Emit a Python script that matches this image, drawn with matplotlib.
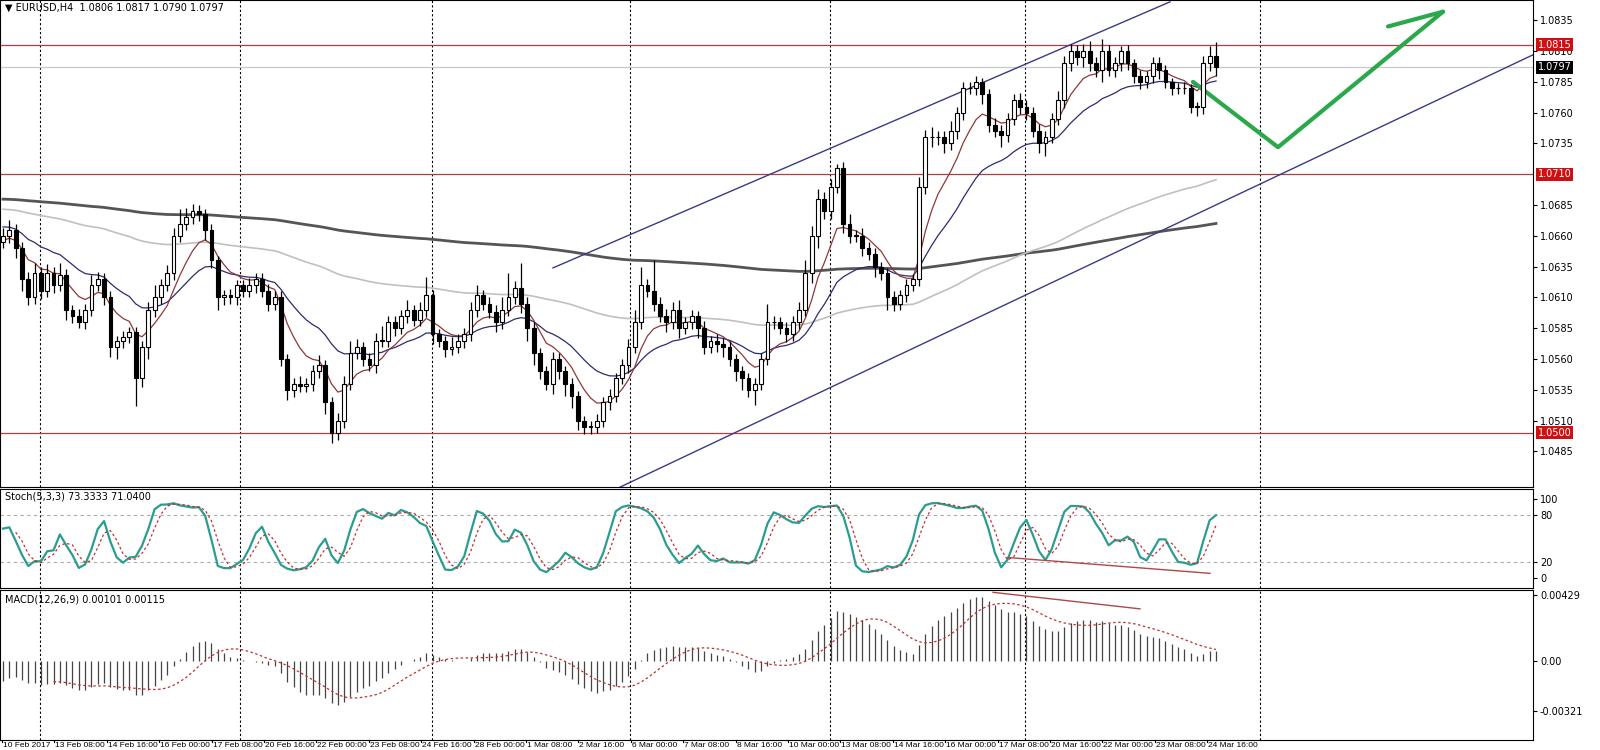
import numpy as np
import matplotlib
matplotlib.use("Agg")
import matplotlib.pyplot as plt

closes = [
1.0660,1.0665,1.0650,1.0625,1.0610,1.0630,1.0615,1.0630,1.0620,1.0628,
1.0600,1.0595,1.0590,1.0600,1.0620,1.0625,1.0610,1.0570,1.0575,1.0578,
1.0582,1.0545,1.0570,1.0600,1.0610,1.0620,1.0630,1.0660,1.0670,1.0675,
1.0680,1.0678,1.0665,1.0640,1.0610,1.0612,1.0610,1.0620,1.0615,1.0620,
1.0625,1.0615,1.0605,1.0610,1.0560,1.0535,1.0540,1.0538,1.0540,1.0550,
1.0555,1.0525,1.0500,1.0510,1.0540,1.0565,1.0570,1.0560,1.0555,1.0575,
1.0575,1.0590,1.0585,1.0595,1.0600,1.0592,1.0600,1.0612,1.0580,1.0575,
1.0568,1.0570,1.0575,1.0580,1.0600,1.0612,1.0605,1.0598,1.0590,1.0600,
1.0610,1.0618,1.0605,1.0585,1.0565,1.0550,1.0540,1.0560,1.0550,1.0540,
1.0530,1.0510,1.0505,1.0505,1.0510,1.0525,1.0530,1.0545,1.0555,1.0570,
1.0590,1.0620,1.0615,1.0605,1.0595,1.0590,1.0600,1.0585,1.0590,1.0595,
1.0585,1.0570,1.0575,1.0572,1.0570,1.0560,1.0550,1.0545,1.0535,1.0540,
1.0560,1.0590,1.0590,1.0585,1.0580,1.0590,1.0600,1.0630,1.0660,1.0690,
1.0680,1.0700,1.0715,1.0670,1.0660,1.0660,1.0650,1.0645,1.0635,1.0630,
1.0610,1.0605,1.0612,1.0620,1.0625,1.0700,1.0740,1.0740,1.0740,1.0735,
1.0745,1.0760,1.0780,1.0780,1.0785,1.0775,1.0750,1.0745,1.0742,1.0755,
1.0770,1.0765,1.0760,1.0745,1.0735,1.0740,1.0755,1.0770,1.0800,1.0810,
1.0805,1.0810,1.0800,1.0795,1.0810,1.0795,1.0800,1.0810,1.0800,1.0790,
1.0785,1.0790,1.0800,1.0795,1.0785,1.0780,1.0780,1.0780,1.0765,1.0765,
1.0800,1.0806,1.0797]
first_open = 1.0655
wick_up = [
6,8,5,5,6,8,5,7,5,10,
5,4,6,5,8,6,5,5,4,5,
4,4,5,6,10,5,6,6,12,8,
6,5,4,5,4,4,5,4,4,6,
5,5,6,5,5,4,5,6,5,5,
8,4,4,6,6,10,6,4,5,6,
12,5,5,5,8,4,6,15,4,4,
4,8,5,5,6,8,4,5,6,10,
20,5,20,5,5,4,4,6,5,4,
5,4,4,5,5,4,6,4,5,6,
10,15,5,25,5,6,6,8,4,5,
4,6,4,5,5,5,4,4,4,5,
5,15,5,4,5,5,6,10,8,8,
6,6,3,5,8,5,6,5,5,4,
4,5,4,5,4,8,6,8,5,5,
8,5,5,5,5,3,4,6,5,5,
5,6,5,5,6,5,5,8,6,6,
5,6,8,5,10,5,5,4,5,4,
5,4,5,5,4,3,4,5,3,4,
6,8,11]
wick_dn = [
5,6,8,10,6,5,6,5,6,5,
8,6,5,6,5,5,6,8,10,6,
5,23,8,10,6,5,5,6,5,5,
5,6,8,6,10,6,5,6,5,5,
6,5,6,5,6,8,6,5,5,6,
5,10,8,6,6,5,5,6,5,6,
5,5,6,5,6,5,5,6,8,5,
6,5,5,6,5,6,5,5,8,6,
5,5,8,10,10,6,5,8,6,10,
10,8,6,6,5,5,6,5,5,6,
5,6,5,6,5,8,6,8,5,6,
8,6,5,6,8,6,8,10,6,12,
5,5,6,5,6,5,6,5,8,10,
6,6,5,8,6,5,6,5,8,6,
10,6,5,6,5,6,6,8,6,8,
5,6,6,5,6,8,6,5,10,6,
5,6,6,5,8,10,5,5,6,6,
6,8,6,6,10,5,6,6,5,6,
6,5,6,8,5,6,5,5,5,8,
6,6,7]

support_levels = [1.0815, 1.0710, 1.0500]
last_price = 1.0797
price_ticks = [1.0835,1.0810,1.0785,1.0760,1.0735,1.0685,1.0660,1.0635,1.0610,1.0585,1.0560,1.0535,1.0510,1.0485]
x_labels = ["10 Feb 2017","13 Feb 08:00","14 Feb 16:00","16 Feb 00:00","17 Feb 08:00","20 Feb 16:00",
            "22 Feb 00:00","23 Feb 08:00","24 Feb 16:00","28 Feb 00:00","1 Mar 08:00","2 Mar 16:00",
            "6 Mar 00:00","7 Mar 08:00","8 Mar 16:00","10 Mar 00:00","13 Mar 08:00","14 Mar 16:00",
            "16 Mar 00:00","17 Mar 08:00","20 Mar 16:00","22 Mar 00:00","23 Mar 08:00","24 Mar 16:00"]
sep_px = [40, 240, 432, 630, 830, 1025, 1260]
chan_upper_px = [(553, 1.0634), (1170, 1.0850)]
chan_lower_px = [(620, 1.0456), (1533, 1.0807)]
arrow_px = [(1193, 1.0785), (1278, 1.0732), (1443, 1.0842)]
stoch_div_px = [(1008, 26), (1210, 6)]
macd_div_px = [(993, 0.00445), (1140, 0.00338)]

n = len(closes)
c = np.array(closes)
o = np.concatenate([[first_open], c[:-1]])
h = np.maximum(o, c) + np.array(wick_up) * 1e-4
l = np.minimum(o, c) - np.array(wick_dn) * 1e-4
h[-1], l[-1] = 1.0817, 1.0790

s = 1213.0 / (n - 1)
def px2x(p): return (p - 3) / s
xmin, xmax = px2x(0), px2x(1533)

def ema(a, period, seed=None):
    out = np.empty(len(a)); k = 2 / (period + 1)
    prev = a[0] if seed is None else seed
    for i, v in enumerate(a):
        prev = prev + k * (v - prev); out[i] = prev
    return out
def sma(a, p):
    out = np.full(len(a), np.nan)
    for i in range(p - 1, len(a)): out[i] = np.mean(a[i - p + 1:i + 1])
    return out

x = np.arange(n)
fig = plt.figure(figsize=(16, 7.5), dpi=100)
fig.patch.set_facecolor("white")
axw = 1533 / 1600
ax = fig.add_axes([0, 1 - 487 / 750, axw, 487 / 750])
ax2 = fig.add_axes([0, 1 - 588 / 750, axw, 99 / 750])
ax3 = fig.add_axes([0, 1 - 740 / 750, axw, 150 / 750])

for a in (ax, ax2, ax3):
    a.set_xlim(xmin, xmax)
    a.yaxis.tick_right()
    a.tick_params(axis="y", labelsize=7, length=3, pad=2)
    a.set_xticks([])
    for sp in a.spines.values(): sp.set_linewidth(0.8)
    for p in sep_px:
        a.axvline(px2x(p), color="black", lw=0.8, ls=(0, (2, 2)))

ax.set_ylim(1.04561, 1.08515)
for lv in support_levels:
    ax.axhline(lv, color="#b04040", lw=0.9)
ax.axhline(last_price, color="#c8c8c8", lw=0.9)
ax.plot(x, ema(c, 320, 1.0690), color="#555555", lw=2)
ax.plot(x, ema(c, 110, 1.0682), color="#c0c0c0", lw=1.2)
ax.plot(x, ema(c, 21, 1.0668), color="#2c2c70", lw=0.9)
ax.plot(x, ema(c, 8, 1.0655), color="#903838", lw=0.9)
bw = 0.6
for i in range(n):
    ax.vlines(i, l[i], h[i], color="black", lw=0.9, zorder=3)
    bull = c[i] >= o[i]
    bot = min(o[i], c[i]); ht = max(abs(c[i] - o[i]), 0.00004)
    ax.add_patch(plt.Rectangle((i - bw / 2, bot), bw, ht, facecolor="white" if bull else "black",
                               edgecolor="black", lw=0.8, zorder=4))
for seg in (chan_upper_px, chan_lower_px):
    ax.plot([px2x(seg[0][0]), px2x(seg[1][0])], [seg[0][1], seg[1][1]], color="#3a3a88", lw=1)
ax.plot([px2x(p) for p, _ in arrow_px], [v for _, v in arrow_px], color="#2aa84a", lw=3,
        solid_capstyle="round")
ax.plot([px2x(1388), px2x(1443)], [1.0830, 1.0842], color="#2aa84a", lw=3, solid_capstyle="round")
ax.set_yticks(price_ticks)
ax.set_yticklabels([f"{t:.4f}" for t in price_ticks])
for lv in support_levels:
    ax.text(1.003, lv, f"{lv:.4f}", transform=ax.get_yaxis_transform(), fontsize=7, color="white",
            va="center", ha="left", bbox=dict(boxstyle="square,pad=0.15", fc="#d01010", ec="none"))
ax.text(1.003, last_price, f"{last_price:.4f}", transform=ax.get_yaxis_transform(), fontsize=7,
        color="white", va="center", ha="left", bbox=dict(boxstyle="square,pad=0.15", fc="black", ec="none"))
ax.text(0.003, 0.995, "▼ EURUSD,H4  1.0806 1.0817 1.0790 1.0797", transform=ax.transAxes,
        fontsize=7, va="top", ha="left")

ll = np.array([l[max(0, i - 4):i + 1].min() for i in range(n)])
hh = np.array([h[max(0, i - 4):i + 1].max() for i in range(n)])
num = np.array([np.sum((c - ll)[max(0, i - 2):i + 1]) for i in range(n)])
den = np.array([np.sum((hh - ll)[max(0, i - 2):i + 1]) for i in range(n)])
k = 100 * num / den
d = sma(k, 3)
ax2.set_ylim(-12.5, 112.5)
for lv in (80, 20):
    ax2.axhline(lv, color="#aaaaaa", lw=0.8, ls=(0, (3, 3)))
ax2.plot(x, k, color="#2a9d8f", lw=1.6)
ax2.plot(x, d, color="#c03030", lw=0.9, ls=(0, (2, 2)))
ax2.plot([px2x(p) for p, _ in stoch_div_px], [v for _, v in stoch_div_px], color="#b04848", lw=1)
ax2.set_yticks([100, 80, 20, 0])
ax2.text(0.003, 0.97, "Stoch(5,3,3) 73.3333 71.0400", transform=ax2.transAxes, fontsize=7, va="top")

macd = ema(c, 12, 1.0650) - ema(c, 26, 1.0665)
sig = sma(macd, 9)
ax3.set_ylim(-0.0051, 0.0046)
ax3.vlines(x, 0, macd, color="#444444", lw=0.9)
ax3.plot(x, sig, color="#c03030", lw=0.9, ls=(0, (2, 2)))
ax3.plot([px2x(p) for p, _ in macd_div_px], [v for _, v in macd_div_px], color="#b04848", lw=1)
ax3.set_yticks([0.00429, 0.0, -0.00321])
ax3.set_yticklabels(["0.00429", "0.00", "-0.00321"])
ax3.text(0.003, 0.97, "MACD(12,26,9) 0.00101 0.00115", transform=ax3.transAxes, fontsize=7, va="top")

lab_px = [2 + 52.4 * i for i in range(len(x_labels))]
for p, t in zip(lab_px, x_labels):
    fig.text((p + 1) / 1600, 1 - 745.5 / 750, t, fontsize=6.0, va="center", ha="left",
             family="Liberation Sans")
    fig.add_artist(plt.Line2D([p / 1600, p / 1600], [1 - 740 / 750, 1 - 742 / 750], color="black", lw=0.8))

fig.savefig("out.png", dpi=100)
